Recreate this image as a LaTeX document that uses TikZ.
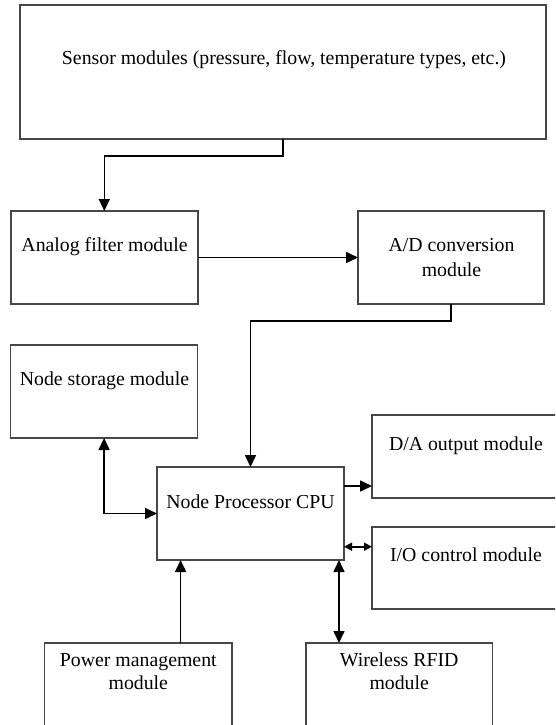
\documentclass[tikz,border=0pt]{standalone}
\usepackage{fontspec}
\setmainfont{Liberation Serif}
\usetikzlibrary{arrows.meta,calc}
\begin{document}
\begin{tikzpicture}[x=1pt,y=-1pt,
  box/.style={draw=black!72,line width=1.4pt,rectangle,inner sep=0pt,outer sep=0pt},
  txt/.style={anchor=base,inner sep=0pt,align=center,font=\fontsize{19.8}{25}\selectfont},
  txtb/.style={txt,font=\fontsize{19.8}{22.5}\selectfont},
  arr/.style={line width=1.6pt,-{Triangle[length=12pt,width=11pt]}},
  darr/.style={line width=1.6pt,{Triangle[length=12pt,width=11pt]}-{Triangle[length=12pt,width=11pt]}},
  sarr/.style={line width=1.6pt,{Triangle[length=8pt,width=8pt]}-{Triangle[length=8pt,width=8pt]}}]
\useasboundingbox (0,0) rectangle (555,725);
\clip (0,0) rectangle (555,725);
\fill[white] (0,0) rectangle (555,725);
% boxes
\node[box,minimum width=526pt,minimum height=134pt] (sensor) at (283,72) {};
\node[box,minimum width=187pt,minimum height=93pt] (analog) at (104.3,257.5) {};
\node[box,minimum width=186pt,minimum height=93pt] (ad) at (451,257.5) {};
\node[box,minimum width=187pt,minimum height=93pt] (storage) at (104.1,391.5) {};
\node[box,minimum width=187pt,minimum height=93pt] (cpu) at (250.5,513.5) {};
\node[box,minimum width=188pt,minimum height=83pt] (da) at (466,456.5) {};
\node[box,minimum width=188pt,minimum height=82pt] (io) at (466,568) {};
\node[box,minimum width=187.6pt,minimum height=93pt] (power) at (138.3,689.5) {};
\node[box,minimum width=186.5pt,minimum height=93pt] (wireless) at (399.2,689.5) {};
% texts
\node[txt] (sensort) at (284,65) {Sensor modules (pressure, flow, temperature types, etc.)};
\node[txt] (analogt) at (104.5,251) {Analog filter module};
\node[txt] (adt) at (451.5,276) {A/D conversion\\module};
\node[txt] (storaget) at (104.5,385) {Node storage module};
\node[txt] (cput) at (250.5,508) {Node Processor CPU};
\node[txt] (dat) at (466,450) {D/A output module};
\node[txt] (iot) at (466,561.5) {I/O control module};
\node[txtb] (powert) at (138.3,689.2) {Power management\\module};
\node[txtb] (wirelesst) at (399.2,689.2) {Wireless RFID\\module};
% connectors
\draw[arr] (sensor.south) -- ++(0,17) -| (analog.north);
\draw[arr] (analog.east) -- (ad.west);
\draw[arr] (ad.south) -- ++(0,17) -| (cpu.north);
\draw[darr] (storage.south) |- (cpu.west);
\coordinate (c1) at ([yshift=-19pt]cpu.north east);
\draw[arr] (c1) -- (c1 -| da.west);
\coordinate (c2) at ([yshift=13.3pt]cpu.south east);
\draw[sarr] (c2) -- (c2 -| io.west);
\coordinate (c3) at ([xshift=42.3pt]power.north);
\draw[arr] (c3) -- (c3 |- cpu.south);
\coordinate (c4) at ([xshift=-5pt]cpu.south east);
\draw[darr] (c4) -- (c4 |- wireless.north);
\end{tikzpicture}
\end{document}
